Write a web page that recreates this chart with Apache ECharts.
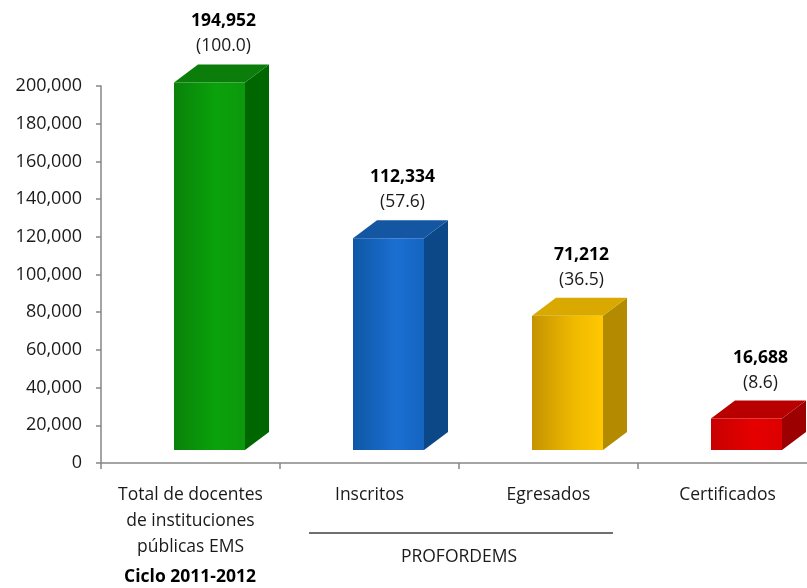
<!DOCTYPE html>
<html>
<head>
<meta charset="utf-8">
<script src="https://cdn.jsdelivr.net/npm/echarts@6/dist/echarts.min.js"></script>
<style>html,body{margin:0;padding:0;background:#fff}#c{width:807px;height:588px}</style>
</head>
<body>
<div id="c"></div>
<script>
var categories = ['Total de docentes\nde instituciones\npúblicas EMS', 'Inscritos', 'Egresados', 'Certificados'];
var values = [194952, 112334, 71212, 16688];
var percents = ['100.0', '57.6', '36.5', '8.6'];
var yTicks = [0, 20000, 40000, 60000, 80000, 100000, 120000, 140000, 160000, 180000, 200000];
var groupLabel = 'PROFORDEMS';
var cycleLabel = 'Ciclo 2011-2012';

var palette = [
  {f: ['#0a820a', '#0aa20a', '#0c980c'], top: '#0b7d0b', side: '#006600'},
  {f: ['#0e57a6', '#1a6fd0', '#1565c2'], top: '#1456a2', side: '#0c4788'},
  {f: ['#c59300', '#f0ba00', '#ffc800'], top: '#d9a900', side: '#b38a00'},
  {f: ['#c80000', '#e60000', '#dd0000'], top: '#b80000', side: '#9c0000'}
];

function fmt(n) { return n.toString().replace(/\B(?=(\d{3})+(?!\d))/g, ','); }

var FONT = '"Open Sans", "Liberation Sans", sans-serif';
var chart = echarts.init(document.getElementById('c'), null, {renderer: 'canvas'});

chart.setOption({
  animation: false,
  backgroundColor: '#ffffff',
  grid: {left: 101, top: 86, width: 716, height: 377, containLabel: false, outerBoundsMode: 'none'},
  xAxis: {
    type: 'category',
    data: categories,
    axisLine: {lineStyle: {color: '#868686', width: 1.5}},
    axisTick: {show: true, length: 6, alignWithLabel: false, lineStyle: {color: '#868686', width: 1.5}},
    axisLabel: {interval: 0, margin: 19, fontFamily: FONT, fontSize: 17.5, color: '#1a1a1a', lineHeight: 26},
    splitLine: {show: false}
  },
  yAxis: {
    type: 'value',
    min: yTicks[0],
    max: yTicks[yTicks.length - 1],
    interval: yTicks[1] - yTicks[0],
    axisLine: {show: true, lineStyle: {color: '#868686', width: 1.5}},
    axisTick: {show: true, length: 5, lineStyle: {color: '#868686', width: 1.5}},
    axisLabel: {margin: 19, fontFamily: FONT, fontSize: 18, color: '#1a1a1a', formatter: function (v) { return fmt(v); }},
    splitLine: {show: false}
  },
  series: [{
    type: 'custom',
    clip: false,
    data: values.map(function (v, i) { return [i, v]; }),
    renderItem: function (params, api) {
      var i = api.value(0);
      var p = api.coord([i, api.value(1)]);
      var p0 = api.coord([i, 0]);
      var cx = p[0];
      var left = cx - 16.5, right = cx + 54.5;
      var bottom = p0[1] - 13, top = p[1] - 13;
      var dx = 24, dy = -18;
      var c = palette[i];
      var backTop = top + dy;
      var lx = (left + right) / 2 + 14;
      return {
        type: 'group',
        children: [
          {type: 'polygon', shape: {points: [[right, top], [right + dx, top + dy], [right + dx, bottom + dy], [right, bottom]]},
           style: {fill: c.side}},
          {type: 'polygon', shape: {points: [[left, top], [left + dx, top + dy], [right + dx, top + dy], [right, top]]},
           style: {fill: c.top}},
          {type: 'rect', shape: {x: left, y: top, width: right - left, height: bottom - top},
           style: {fill: new echarts.graphic.LinearGradient(0, 0, 1, 0, [
             {offset: 0, color: c.f[0]}, {offset: 0.6, color: c.f[1]}, {offset: 1, color: c.f[2]}])}},
          {type: 'text', style: {x: lx, y: backTop - 43, text: fmt(values[i]), align: 'center', verticalAlign: 'middle',
            font: 'bold 17.5px ' + FONT, fill: '#000'}},
          {type: 'text', style: {x: lx, y: backTop - 18, text: '(' + percents[i] + ')', align: 'center', verticalAlign: 'middle',
            font: '17.5px ' + FONT, fill: '#1a1a1a'}}
        ]
      };
    }
  }],
  graphic: [
    {type: 'line', shape: {x1: 309, y1: 533, x2: 613, y2: 533}, style: {stroke: '#404040', lineWidth: 1.5}},
    {type: 'text', x: 459, y: 557, style: {text: groupLabel, align: 'center', verticalAlign: 'middle', font: '17.5px ' + FONT, fill: '#1a1a1a'}},
    {type: 'text', x: 190, y: 577, style: {text: cycleLabel, align: 'center', verticalAlign: 'middle', font: 'bold 17.5px ' + FONT, fill: '#000'}}
  ]
});
</script>
</body>
</html>
